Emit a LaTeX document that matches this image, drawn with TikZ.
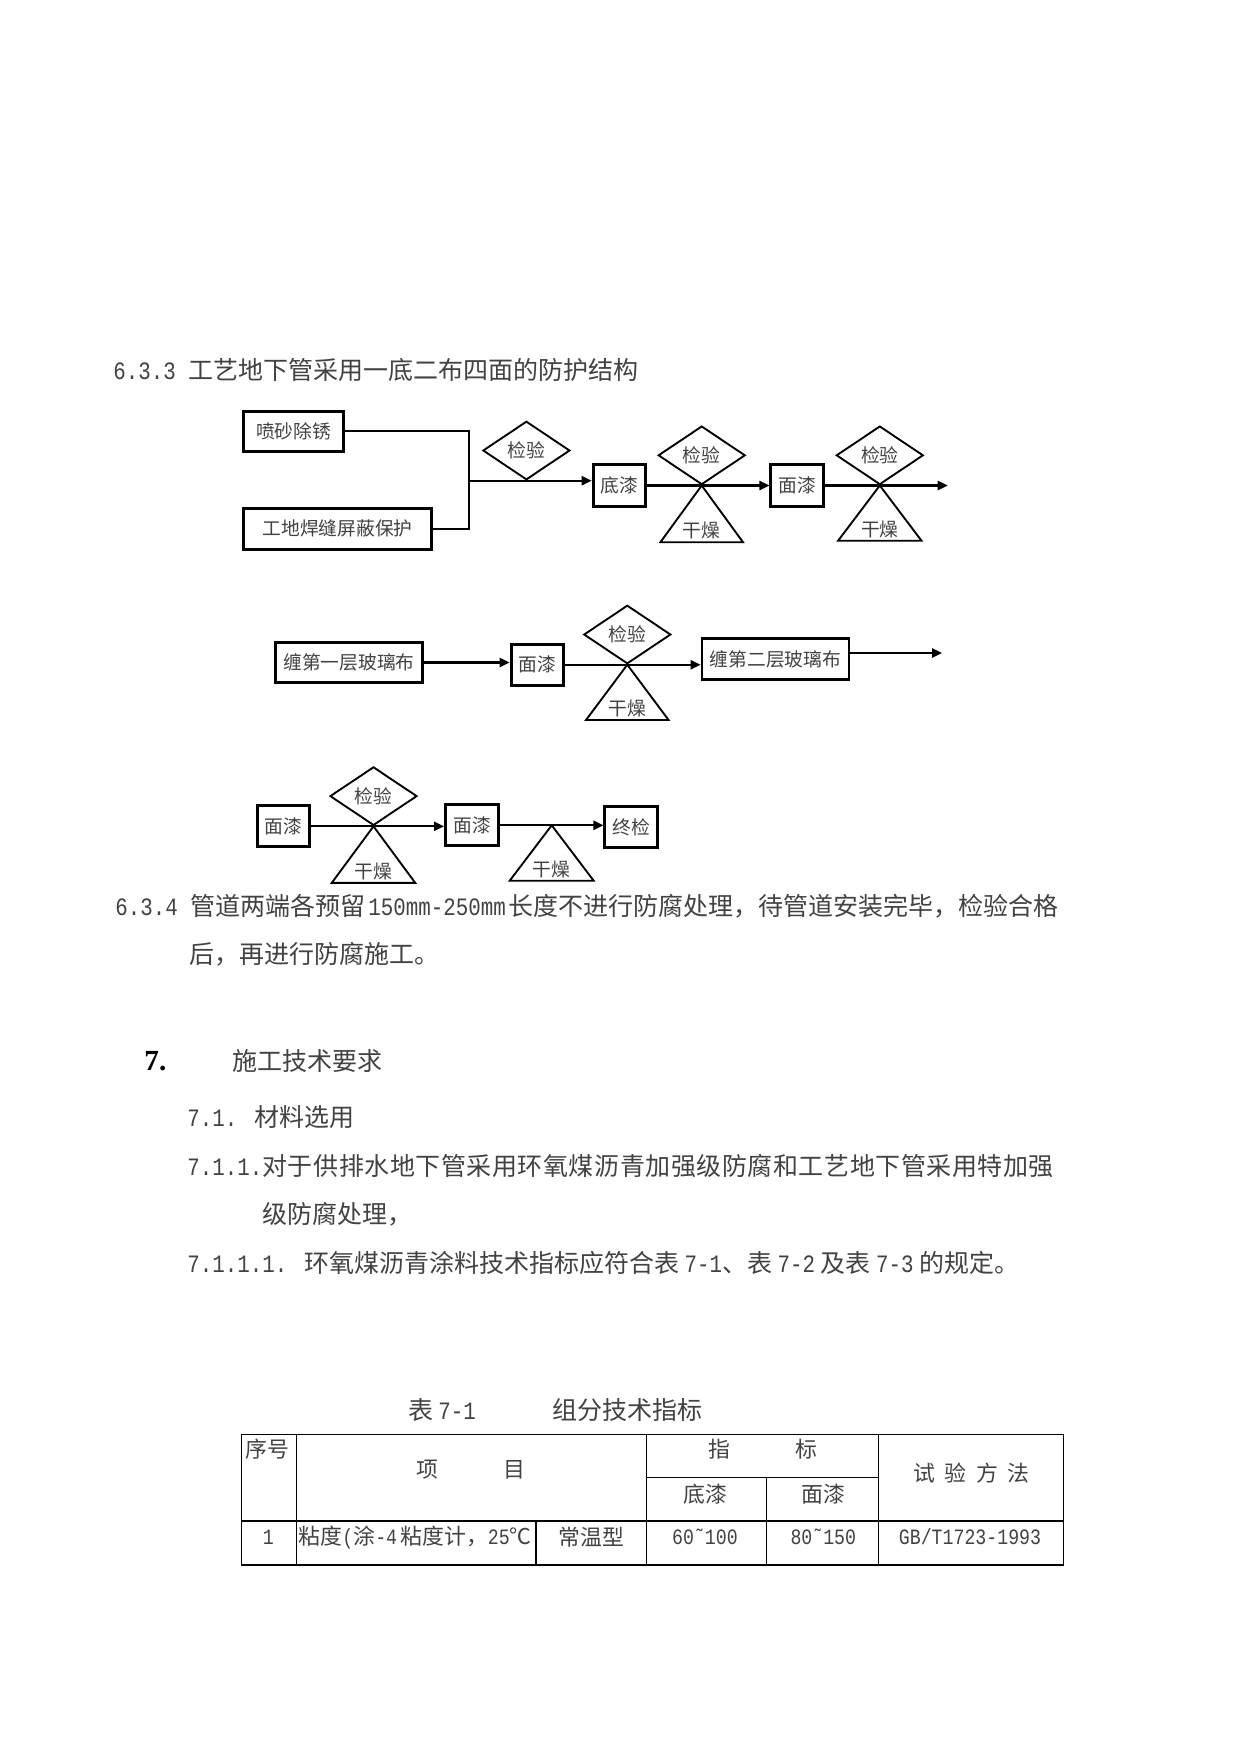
\documentclass[tikz,border=0pt]{standalone}
\usepackage{fontspec}
\setmainfont{Noto Sans CJK SC}
\newfontfamily\latfont[FakeStretch=0.833]{Liberation Mono}
\newfontfamily\headfont{Liberation Serif}
\usetikzlibrary{arrows.meta,shapes.geometric}
\definecolor{inkGray}{RGB}{66,66,66}
\newlength\pxu
\setlength\pxu{0.48pt}
\newcommand{\bodysize}{\fontsize{12}{14}\selectfont}
\newcommand{\labelsize}{\fontsize{9}{11}\selectfont}
\newcommand{\cellsize}{\fontsize{10.5}{12.5}\selectfont}
\tikzset{
  stepbox/.style={draw,line width=1.4pt,inner sep=0pt,minimum width=52.6\pxu,minimum height=41\pxu,text=inkGray,font=\labelsize},
  checkbox/.style={draw,diamond,line width=0.9pt,inner sep=0pt,minimum width=87\pxu,minimum height=58.5\pxu,anchor=south,text=inkGray,font=\labelsize},
  drytri/.style={draw,line width=0.9pt,line join=miter},
  drylbl/.style={inner sep=0pt,midway,yshift=5.5pt,text=inkGray,font=\labelsize},
  plain/.style={line width=1pt},
  flow/.style={line width=1pt,-{Triangle[length=4.8pt,width=4.4pt]}},
  body/.style={anchor=west,inner sep=0pt,text height=9.96pt,text depth=0.96pt,text=inkGray,font=\bodysize},
  cell/.style={inner sep=0pt,text=inkGray,font=\cellsize},
  grid/.style={line width=0.6pt}
}

\begin{document}
\begin{tikzpicture}[x=0.48pt,y=-0.48pt]
\path[use as bounding box,fill=white] (0,0) rectangle (1241,1754);
\node[body] (sec633) at (113,370.5) {{\latfont 6.3.3 }工艺地下管采用一底二布四面的防护结构};

\node[stepbox,minimum width=100.6\pxu,minimum height=39.7\pxu] (sand) at (293.6,431.3) {喷砂除锈};
\node[stepbox,minimum width=188\pxu] (weld) at (337.6,528.7) {工地焊缝屏蔽保护};
\coordinate (join) at (469,480.7);
\draw[plain] (sand.east) -| (join);
\draw[plain] (weld.east) -| (join);
\node[stepbox,minimum height=41.4\pxu] (prime) at (619.5,485.5) {底漆};
\node[checkbox] (chk1) at (526.4,480.7) {检验};
\draw[flow] (join) -- (join -| prime.west);
\node[stepbox,minimum height=41.4\pxu] (top1) at (797.2,485.5) {面漆};
\node[checkbox] (chk2) at (701.7,485.5) {检验};
\draw[drytri] (chk2.south) -- ++(-41.3,56.7) -- ++(82.6,0) node[drylbl] (dry2) {干燥} -- cycle;
\draw[flow] (prime.east) -- (prime.east -| top1.west);
\node[checkbox] (chk3) at (879.8,485.5) {检验};
\draw[drytri] (chk3.south) -- ++(-41.7,55.2) -- ++(83.4,0) node[drylbl] (dry3) {干燥} -- cycle;
\coordinate (end1) at (947.7,485.5);
\draw[flow] (top1.east) -- (end1);

\node[stepbox,minimum width=146.3\pxu,minimum height=40.6\pxu] (wrap1) at (349,662.5) {缠第一层玻璃布};
\node[stepbox,minimum width=52.5\pxu] (top2) at (537.3,664.7) {面漆};
\node[stepbox,minimum width=147\pxu] (wrap2) at (775.5,659) {缠第二层玻璃布};
\draw[flow] (wrap1.east) -- (wrap1.east -| top2.west);
\node[checkbox] (chk4) at (627.3,664.7) {检验};
\draw[drytri] (chk4.south) -- ++(-41.3,55.3) -- ++(82.6,0) node[drylbl] (dry4) {干燥} -- cycle;
\draw[flow] (top2.east) -- (top2.east -| wrap2.west);
\coordinate (end2) at (942,653);
\draw[flow] (end2 -| wrap2.east) -- (end2);

\node[stepbox,minimum width=52.3\pxu] (top3) at (283.3,826.3) {面漆};
\node[stepbox,minimum width=53\pxu] (top4) at (472,825.3) {面漆};
\node[stepbox,minimum width=53\pxu] (final) at (631.3,827) {终检};
\node[checkbox] (chk5) at (373.5,826.3) {检验};
\draw[drytri] (chk5.south) -- ++(-41.7,56.5) -- ++(83.4,0) node[drylbl] (dry5) {干燥} -- cycle;
\draw[flow] (top3.east) -- (top3.east -| top4.west);
\coordinate (dry6top) at (551.7,825.3);
\draw[drytri] (dry6top) -- ++(-42,55.4) -- ++(84,0) node[drylbl] (dry6) {干燥} -- cycle;
\draw[flow] (top4.east) -- (top4.east -| final.west);

\node[body] (sec634) at (115,906) {{\latfont 6.3.4 }管道两端各预留\hspace{0.12em}{\latfont 150mm-250mm}\hspace{0.12em}长度不进行防腐处理，待管道安装完毕，检验合格};
\node[body] (sec634b) at (189,954.5) {后，再进行防腐施工。};
\node[body] (sec7num) at (144,1060.8) {{\headfont\fontsize{14}{16}\selectfont\bfseries\color{black} 7.}};
\node[body] (sec7) at (231.7,1060.8) {施工技术要求};
\node[body] (sec71) at (187,1116.7) {{\latfont 7.1. }材料选用};
\node[body] (sec711) at (187,1166) {{\latfont 7.1.1.}{\addfontfeature{LetterSpace=2.2}对于供排水地下管采用环氧煤沥青加强级防腐和工艺地下管采用特加强}};
\node[body] (sec711b) at (262,1214) {级防腐处理，};
\node[body] (sec7111) at (187,1263) {{\latfont 7.1.1.1. }环氧煤沥青涂料技术指标应符合表\hspace{0.22em}{\latfont 7-1}、表\hspace{0.22em}{\latfont 7-2}\hspace{0.22em}及表\hspace{0.22em}{\latfont 7-3}\hspace{0.22em}的规定。};

\node[body] (caption) at (408,1410) {表\hspace{0.2em}{\latfont 7-1}\hspace{36.6pt}组分技术指标};
\draw[grid] (241.7,1434.3) rectangle (1063.3,1565);
\draw[grid] (241.7,1521) -- (1063.3,1521);
\foreach \cx in {296.7,646.7,878.3}
  \draw[grid] (\cx,1434.3) -- (\cx,1565);
\draw[grid] (646.7,1477.3) -- (878.3,1477.3);
\draw[grid] (766.7,1477.3) -- (766.7,1565);
\draw[grid] (536,1521) -- (536,1565);
\node[cell] (hdNo) at (267.6,1449) {序号};
\node[cell] (hdItem) at (470.8,1470) {项\hspace{3em}目};
\node[cell] (hdIndex) at (762.7,1449) {指\hspace{3em}标};
\node[cell] (hdTest) at (971.5,1473) {试\hspace{.44em}验\hspace{.44em}方\hspace{.44em}法};
\node[cell] (hdPrime) at (705,1494) {底漆};
\node[cell] (hdTop) at (823.3,1494) {面漆};
\node[cell] (rNo) at (268.3,1537) {\latfont 1};
\node[cell,anchor=west] (rItem) at (298.3,1537) {粘度{\latfont (}涂{\latfont -4}\hspace{0.15em}粘度计，{\latfont 25}℃};
\node[cell] (rType) at (591.7,1537) {常温型};
\node[cell] (rPrime) at (705,1537) {\latfont 60˜100};
\node[cell] (rTop) at (823.3,1537) {\latfont 80˜150};
\node[cell] (rTest) at (970,1537) {\latfont GB/T1723-1993};
\end{tikzpicture}
\end{document}
